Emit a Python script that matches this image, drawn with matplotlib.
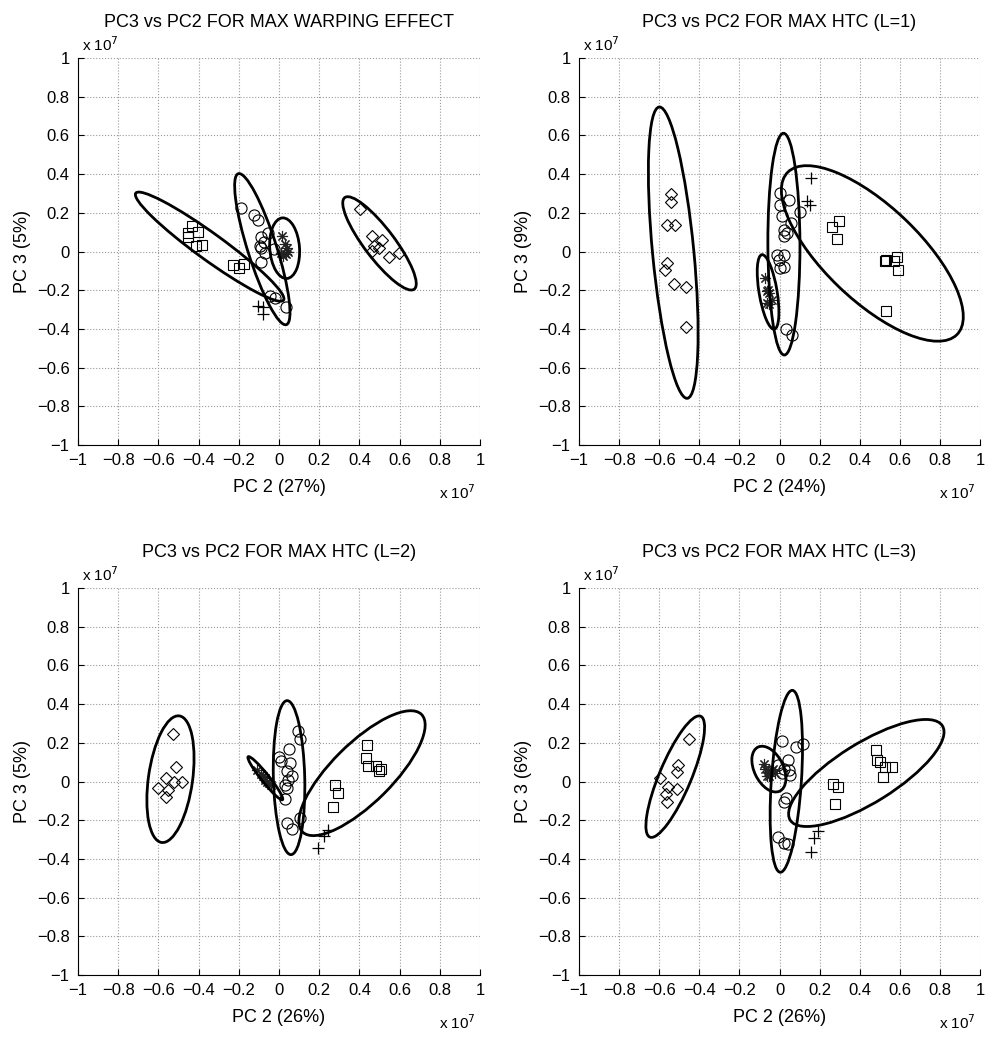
import matplotlib.pyplot as plt
from matplotlib.patches import Ellipse

plt.rcParams['font.family'] = ['Liberation Sans', 'DejaVu Sans']

titles = ["PC3 vs PC2 FOR MAX WARPING EFFECT", "PC3 vs PC2 FOR MAX HTC (L=1)",
          "PC3 vs PC2 FOR MAX HTC (L=2)", "PC3 vs PC2 FOR MAX HTC (L=3)"]
xlabels = ["PC 2 (27%)", "PC 2 (24%)", "PC 2 (26%)", "PC 2 (26%)"]
ylabels = ["PC 3 (5%)", "PC 3 (9%)", "PC 3 (5%)", "PC 3 (6%)"]
ticks = [-1, -0.8, -0.6, -0.4, -0.2, 0, 0.2, 0.4, 0.6, 0.8, 1]
tick_labels = ["\u22121", "\u22120.8", "\u22120.6", "\u22120.4", "\u22120.2", "0",
               "0.2", "0.4", "0.6", "0.8", "1"]

# panel 1 (values in units of 1e7)
p1_sq_x = [-0.435, -0.451, -0.402, -0.451, -0.413, -0.383, -0.231, -0.198, -0.175]
p1_sq_y = [0.134, 0.098, 0.102, 0.076, 0.028, 0.035, -0.072, -0.087, -0.066]
p1_ci_x = [-0.19, -0.126, -0.104, -0.054, -0.088, -0.076, -0.096, -0.088, -0.071,
           -0.026, -0.088, -0.046, -0.021, 0.036]
p1_ci_y = [0.225, 0.19, 0.161, 0.094, 0.076, 0.047, 0.031, 0.019, -0.008,
           0.013, -0.055, -0.228, -0.239, -0.287]
p1_st_x = [0.015, 0.028, 0.04, 0.012, 0.033, 0.045, 0.02]
p1_st_y = [0.082, 0.039, 0.016, -0.008, -0.013, 0.0, -0.024]
p1_pl_x = [-0.104, -0.079, -0.079]
p1_pl_y = [-0.283, -0.287, -0.323]
p1_di_x = [0.405, 0.463, 0.512, 0.474, 0.499, 0.463, 0.549, 0.595]
p1_di_y = [0.22, 0.082, 0.06, 0.028, 0.019, 0.003, -0.028, -0.008]
# ellipses: centre x, centre y, semi-major, semi-minor, angle (deg)
p1_ell = [(-0.345, 0.025, 0.46, 0.068, -37), (-0.083, 0.012, 0.408, 0.072, 107),
          (0.028, 0.017, 0.157, 0.074, 94), (0.5, 0.042, 0.293, 0.076, -54)]

# panel 2
p2_sq_x = [0.264, 0.298, 0.288, 0.524, 0.532, 0.569, 0.585, 0.592, 0.529]
p2_sq_y = [0.129, 0.157, 0.063, -0.047, -0.044, -0.05, -0.031, -0.098, -0.309]
p2_ci_x = [0.003, 0.0, 0.046, 0.013, 0.102, 0.056, 0.02, 0.036, 0.02,
           -0.013, 0.023, -0.003, 0.02, 0.0, 0.03, 0.061]
p2_ci_y = [0.302, 0.239, 0.265, 0.186, 0.205, 0.145, 0.113, 0.098, 0.082,
           -0.019, -0.016, -0.044, -0.079, -0.087, -0.4, -0.433]
p2_st_x = [-0.074, -0.055, -0.05, -0.06, -0.038, -0.063, -0.05]
p2_st_y = [-0.139, -0.197, -0.213, -0.205, -0.252, -0.265, -0.271]
p2_pl_x = [0.157, 0.139, 0.152]
p2_pl_y = [0.378, 0.26, 0.241]
p2_di_x = [-0.539, -0.542, -0.559, -0.522, -0.562, -0.57, -0.526, -0.468, -0.468]
p2_di_y = [0.296, 0.255, 0.139, 0.139, -0.06, -0.098, -0.17, -0.184, -0.391]
p2_ell = [(0.463, -0.01, 0.595, 0.24, -45), (0.022, 0.038, 0.573, 0.08, 90.2),
          (-0.057, -0.209, 0.195, 0.045, 99.1), (-0.53, -0.006, 0.756, 0.103, 95.3)]

# panel 3
p3_sq_x = [0.438, 0.433, 0.441, 0.483, 0.496, 0.507, 0.281, 0.293, 0.271]
p3_sq_y = [0.189, 0.123, 0.082, 0.082, 0.055, 0.066, -0.019, -0.06, -0.131]
p3_ci_x = [0.094, 0.106, 0.05, 0.0, 0.012, 0.056, 0.04, 0.066, 0.045,
           0.028, 0.04, 0.028, 0.102, 0.04, 0.066]
p3_ci_y = [0.26, 0.22, 0.169, 0.129, 0.107, 0.094, 0.055, 0.028, 0.008,
           -0.016, -0.035, -0.091, -0.189, -0.217, -0.244]
p3_st_x = [-0.11, -0.09, -0.08, -0.07, -0.06, -0.05, -0.07, -0.04]
p3_st_y = [0.06, 0.04, 0.03, 0.02, 0.0, -0.01, 0.01, -0.02]
p3_pl_x = [0.243, 0.226, 0.193]
p3_pl_y = [-0.249, -0.283, -0.346]
p3_di_x = [-0.526, -0.512, -0.562, -0.522, -0.484, -0.6, -0.55, -0.562]
p3_di_y = [0.244, 0.076, 0.016, 0.0, -0.003, -0.035, -0.044, -0.079]
p3_ell = [(0.413, 0.043, 0.424, 0.152, 46), (0.05, 0.02, 0.398, 0.078, 91.4),
          (-0.068, 0.017, 0.14, 0.02, -52.5), (-0.54, 0.012, 0.33, 0.11, 82.4)]

# panel 4
p4_sq_x = [0.483, 0.486, 0.527, 0.562, 0.516, 0.268, 0.293, 0.276, 0.5]
p4_sq_y = [0.161, 0.109, 0.074, 0.074, 0.022, -0.013, -0.028, -0.115, 0.1]
p4_ci_x = [0.012, 0.083, 0.119, 0.04, -0.005, 0.02, 0.045, 0.012, 0.053,
           0.033, 0.023, -0.005, 0.02, 0.04]
p4_ci_y = [0.211, 0.18, 0.192, 0.11, 0.085, 0.066, 0.058, 0.043, 0.035,
           -0.083, -0.107, -0.288, -0.32, -0.324]
p4_st_x = [-0.079, -0.071, -0.055, -0.038, -0.063, -0.021, -0.03, -0.05]
p4_st_y = [0.09, 0.066, 0.05, 0.058, 0.031, 0.043, 0.066, 0.027]
p4_pl_x = [0.193, 0.174, 0.155]
p4_pl_y = [-0.257, -0.293, -0.362]
p4_di_x = [-0.451, -0.504, -0.509, -0.595, -0.555, -0.512, -0.567, -0.562]
p4_di_y = [0.22, 0.085, 0.047, 0.016, -0.031, -0.041, -0.063, -0.107]
p4_ell = [(0.433, 0.044, 0.451, 0.153, 32.9), (0.034, 0.001, 0.471, 0.075, 86.3),
          (-0.053, 0.064, 0.126, 0.073, 115), (-0.52, 0.025, 0.337, 0.08, 68)]

panels = [
    (p1_sq_x, p1_sq_y, p1_ci_x, p1_ci_y, p1_st_x, p1_st_y, p1_pl_x, p1_pl_y, p1_di_x, p1_di_y, p1_ell),
    (p2_sq_x, p2_sq_y, p2_ci_x, p2_ci_y, p2_st_x, p2_st_y, p2_pl_x, p2_pl_y, p2_di_x, p2_di_y, p2_ell),
    (p3_sq_x, p3_sq_y, p3_ci_x, p3_ci_y, p3_st_x, p3_st_y, p3_pl_x, p3_pl_y, p3_di_x, p3_di_y, p3_ell),
    (p4_sq_x, p4_sq_y, p4_ci_x, p4_ci_y, p4_st_x, p4_st_y, p4_pl_x, p4_pl_y, p4_di_x, p4_di_y, p4_ell),
]

fig = plt.figure(figsize=(9.91, 10.61), dpi=100)
W, H = 991, 1061
boxes = [(78, 58, 480, 445), (579, 58, 980, 445), (78, 588, 480, 975), (579, 588, 980, 975)]

for i, (box, pan) in enumerate(zip(boxes, panels)):
    l, t, r, b = box
    ax = fig.add_axes([l / W, 1 - b / H, (r - l) / W, (b - t) / H])
    sqx, sqy, cix, ciy, stx, sty, plx, ply, dix, diy, ells = pan

    ax.plot(sqx, sqy, 's', ms=6.5, mfc='none', mec='black', mew=0.8, zorder=3)
    ax.plot(cix, ciy, 'o', ms=8, mfc='none', mec='black', mew=0.8, zorder=3)
    ax.plot(stx, sty, marker=(8, 2, 0), ls='none', ms=8, color='#222222', mew=0.8, zorder=3)
    ax.plot(plx, ply, '+', ms=8, color='black', mew=0.9, zorder=3)
    ax.plot(dix, diy, 'D', ms=6.5, mfc='none', mec='black', mew=0.8, zorder=3)

    for cx, cy, a, bb, ang in ells:
        ax.add_patch(Ellipse((cx, cy), 2 * a, 2 * bb, angle=ang, fill=False,
                             lw=2, ec='black', zorder=4))

    ax.set_xlim(-1, 1)
    ax.set_ylim(-1, 1)
    ax.set_xticks(ticks)
    ax.set_yticks(ticks)
    ax.set_xticklabels(tick_labels, fontsize=12)
    ax.set_yticklabels(tick_labels, fontsize=12)
    ax.tick_params(direction='in', length=4, width=0.8, pad=6)
    ax.spines['top'].set_visible(False)
    ax.spines['right'].set_visible(False)
    ax.grid(True, linestyle=':', color='#999999', lw=0.8)
    ax.set_axisbelow(True)

    ax.set_title(titles[i], fontsize=13, pad=22)
    ax.set_xlabel(xlabels[i], fontsize=13, labelpad=8)
    ax.set_ylabel(ylabels[i], fontsize=13, labelpad=4)
    ax.text(0.01, 1.01, r'x 10$^7$', transform=ax.transAxes, fontsize=11,
            ha='left', va='bottom')
    ax.text(0.99, -0.1, r'x 10$^7$', transform=ax.transAxes, fontsize=11,
            ha='right', va='top')

fig.savefig('out.png', dpi=100)
